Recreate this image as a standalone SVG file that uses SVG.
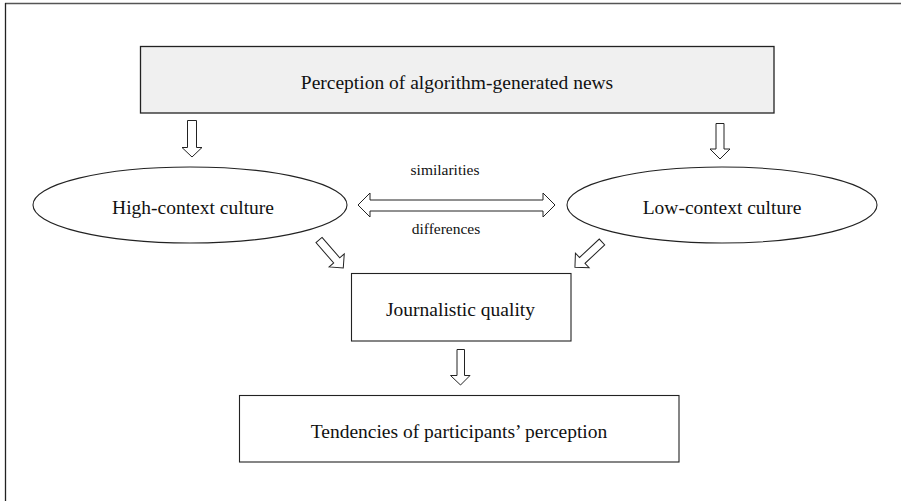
<svg xmlns="http://www.w3.org/2000/svg" width="901" height="501" viewBox="0 0 901 501">
<style>
.t{font-family:"Liberation Serif","Times New Roman",serif;font-size:19.5px;fill:#111;text-anchor:middle}
.s{font-family:"Liberation Serif","Times New Roman",serif;font-size:15.5px;fill:#111;text-anchor:middle}
.n{fill:#fff;stroke:#222;stroke-width:1.1}
.a{fill:#fff;stroke:#222;stroke-width:1}
</style>
<rect width="901" height="501" fill="#fff"/>
<g id="frame" fill="none">
<line x1="5" y1="3.5" x2="901" y2="3.5" stroke="#555" stroke-width="1.5"/>
<line x1="5.5" y1="3" x2="5.5" y2="501" stroke="#222" stroke-width="1.3"/>
</g>
<g id="perception">
<rect x="140.5" y="46.5" width="633.5" height="66.5" fill="#f0f0f0" stroke="#222" stroke-width="1.3"/>
<text class="t" x="457" y="88.5">Perception of algorithm-generated news</text>
</g>
<g id="high-context">
<ellipse class="n" cx="190" cy="205" rx="157" ry="38"/>
<text class="t" x="193" y="213.5">High-context culture</text>
</g>
<g id="low-context">
<ellipse class="n" cx="722" cy="205" rx="155" ry="38"/>
<text class="t" x="722" y="213.5">Low-context culture</text>
</g>
<g id="journalistic">
<rect class="n" x="351.5" y="273.5" width="219.5" height="67.5"/>
<text class="t" x="460.5" y="316">Journalistic quality</text>
</g>
<g id="tendencies">
<rect class="n" x="239.5" y="395.5" width="439.5" height="66.5"/>
<text class="t" x="459" y="437.5">Tendencies of participants’ perception</text>
</g>
<g id="connectors">
<path class="a" d="M187.5,120.5 H196.5 V147.5 H202 L192,157 L182,147.5 H187.5 Z"/>
<path class="a" d="M716,123.5 H724 V149 H730 L720,159 L710,149 H716 Z"/>
<path class="a" d="M457,349.5 H464.5 V375.5 H470 L460.5,385 L450.5,375.5 H457 Z"/>
<path class="a" d="M0,-4 L27,-4 L27,-10 L37,0 L27,10 L27,4 L0,4 Z" transform="translate(319,240) rotate(49)"/>
<path class="a" d="M0,-4 L27,-4 L27,-10 L37,0 L27,10 L27,4 L0,4 Z" transform="translate(602,242) rotate(137)"/>
<path class="a" d="M358,205 L370,193 L370,200 L543,200 L543,193 L555,205 L543,217 L543,211 L370,211 L370,217 Z"/>
<text class="s" x="445" y="174.5">similarities</text>
<text class="s" x="446" y="234">differences</text>
</g>
</svg>
